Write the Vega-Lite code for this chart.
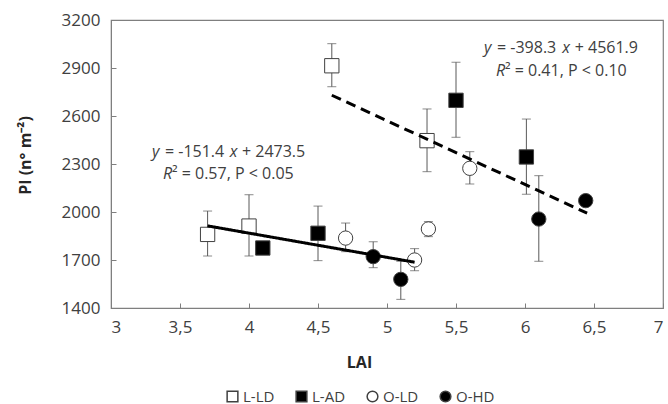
{
  "$schema": "https://vega.github.io/schema/vega-lite/v6.json",
  "width": 552,
  "height": 288,
  "autosize": {"type": "none"},
  "padding": {"left": 111, "top": 20, "right": 5, "bottom": 96},
  "background": "white",
  "config": {
    "font": "Open Sans",
    "view": {"stroke": "#7f7f7f", "strokeWidth": 1.2},
    "axis": {"grid": false, "domainColor": "#7f7f7f", "tickColor": "#7f7f7f", "labelColor": "#404040", "labelFontSize": 17, "titleFontSize": 16, "titleFontWeight": "bold", "titleColor": "#262626"},
    "legend": {"gridAlign": "none"}
  },
  "datasets": {
    "pts": [
      {"series": "L-LD", "lai": 3.7, "pi": 1860, "lo": 1725, "hi": 2006},
      {"series": "L-LD", "lai": 4.0, "pi": 1912, "lo": 1725, "hi": 2108},
      {"series": "L-LD", "lai": 4.6, "pi": 2914, "lo": 2783, "hi": 3052},
      {"series": "L-LD", "lai": 5.29, "pi": 2446, "lo": 2252, "hi": 2644},
      {"series": "L-AD", "lai": 4.1, "pi": 1775, "lo": 1775, "hi": 1775},
      {"series": "L-AD", "lai": 4.5, "pi": 1867, "lo": 1696, "hi": 2037},
      {"series": "L-AD", "lai": 5.5, "pi": 2698, "lo": 2467, "hi": 2936},
      {"series": "L-AD", "lai": 6.01, "pi": 2344, "lo": 2111, "hi": 2581},
      {"series": "O-LD", "lai": 4.7, "pi": 1837, "lo": 1752, "hi": 1931},
      {"series": "O-LD", "lai": 5.2, "pi": 1700, "lo": 1633, "hi": 1771},
      {"series": "O-LD", "lai": 5.3, "pi": 1894, "lo": 1846, "hi": 1940},
      {"series": "O-LD", "lai": 5.6, "pi": 2273, "lo": 2175, "hi": 2377},
      {"series": "O-HD", "lai": 4.9, "pi": 1721, "lo": 1652, "hi": 1814},
      {"series": "O-HD", "lai": 5.1, "pi": 1579, "lo": 1454, "hi": 1692},
      {"series": "O-HD", "lai": 6.1, "pi": 1956, "lo": 1692, "hi": 2227},
      {"series": "O-HD", "lai": 6.44, "pi": 2071, "lo": 2071, "hi": 2071}
    ],
    "fits": [
      {"fit": "a", "lai": 3.7, "pi": 1913.3},
      {"fit": "a", "lai": 5.2, "pi": 1686.2},
      {"fit": "b", "lai": 4.6, "pi": 2729.7},
      {"fit": "b", "lai": 6.45, "pi": 1992.8}
    ],
    "notesItalic": [
      {"lai": 3.297, "pi": 2375, "label": "y"},
      {"lai": 3.86, "pi": 2375, "label": "x"},
      {"lai": 3.377, "pi": 2237, "label": "R"},
      {"lai": 5.703, "pi": 3025, "label": "y"},
      {"lai": 6.27, "pi": 3025, "label": "x"},
      {"lai": 5.79, "pi": 2881, "label": "R"}
    ],
    "notesPlain": [
      {"lai": 3.391, "pi": 2375, "label": "= -151.4"},
      {"lai": 3.949, "pi": 2375, "label": "+ 2473.5"},
      {"lai": 3.442, "pi": 2237, "label": "² = 0.57, P < 0.05"},
      {"lai": 5.797, "pi": 3025, "label": "= -398.3"},
      {"lai": 6.36, "pi": 3025, "label": "+ 4561.9"},
      {"lai": 5.855, "pi": 2881, "label": "² = 0.41, P < 0.10"}
    ]
  },
  "encoding": {
    "x": {"field": "lai", "type": "quantitative", "scale": {"domain": [3, 7], "nice": false, "zero": false},
      "axis": {"title": "LAI", "values": [3, 3.5, 4, 4.5, 5, 5.5, 6, 6.5, 7], "labelExpr": "replace(toString(datum.value), '.', ',')", "tickSize": -5, "labelPadding": 16, "titleX": 248, "titleY": 54, "titleBaseline": "middle", "titleAnchor": null}},
    "y": {"field": "pi", "type": "quantitative", "scale": {"domain": [1400, 3200], "nice": false, "zero": false},
      "axis": {"title": "PI (n° m⁻²)", "format": "d", "values": [1400, 1700, 2000, 2300, 2600, 2900, 3200], "tickSize": -5, "labelPadding": 16, "titleX": -86, "titleY": 135, "titleAngle": -90, "titleAlign": "center", "titleBaseline": "middle"}}
  },
  "layer": [
    {"data": {"name": "pts"}, "mark": {"type": "rule", "color": "#595959", "strokeWidth": 1},
      "encoding": {"y2": {"field": "hi"}, "y": {"field": "lo", "type": "quantitative"}}},
    {"data": {"name": "pts"}, "mark": {"type": "tick", "orient": "horizontal", "color": "#595959", "size": 9, "thickness": 1},
      "encoding": {"y": {"field": "lo", "type": "quantitative"}}},
    {"data": {"name": "pts"}, "mark": {"type": "tick", "orient": "horizontal", "color": "#595959", "size": 9, "thickness": 1},
      "encoding": {"y": {"field": "hi", "type": "quantitative"}}},
    {"data": {"name": "pts"}, "mark": {"type": "point", "filled": true, "size": 205, "stroke": "#404040", "strokeWidth": 1, "opacity": 1},
      "encoding": {
        "shape": {"field": "series", "type": "nominal", "scale": {"domain": ["L-LD", "L-AD", "O-LD", "O-HD"], "range": ["square", "square", "circle", "circle"]},
          "legend": {"title": null, "orient": "none", "legendX": 114, "legendY": 369, "direction": "horizontal", "columns": 4, "gridAlign": "none", "labelFontSize": 15, "labelColor": "#404040", "columnPadding": 18, "symbolSize": 115, "labelOffset": 3,
            "encode": {"symbols": {"update": {"stroke": {"value": "#404040"}, "strokeWidth": {"value": 1}}}}}},
        "fill": {"field": "series", "type": "nominal", "scale": {"domain": ["L-LD", "L-AD", "O-LD", "O-HD"], "range": ["white", "black", "white", "black"]},
          "legend": {"title": null, "orient": "none", "legendX": 114, "legendY": 369, "direction": "horizontal", "columns": 4, "gridAlign": "none", "labelFontSize": 15, "labelColor": "#404040", "columnPadding": 18, "symbolSize": 115, "labelOffset": 3,
            "encode": {"symbols": {"update": {"stroke": {"value": "#404040"}, "strokeWidth": {"value": 1}}}}}}
      }},
    {"data": {"name": "fits"}, "mark": {"type": "line", "color": "black", "strokeWidth": 3},
      "encoding": {"detail": {"field": "fit"}, "strokeDash": {"field": "fit", "type": "nominal", "scale": {"domain": ["a", "b"], "range": [[1, 0], [10, 6]]}, "legend": null}}},
    {"data": {"name": "notesItalic"}, "mark": {"type": "text", "fontSize": 16, "fontStyle": "italic", "color": "#404040", "align": "left", "baseline": "middle"},
      "encoding": {"text": {"field": "label"}}},
    {"data": {"name": "notesPlain"}, "mark": {"type": "text", "fontSize": 16, "color": "#404040", "align": "left", "baseline": "middle"},
      "encoding": {"text": {"field": "label"}}}
  ]
}
